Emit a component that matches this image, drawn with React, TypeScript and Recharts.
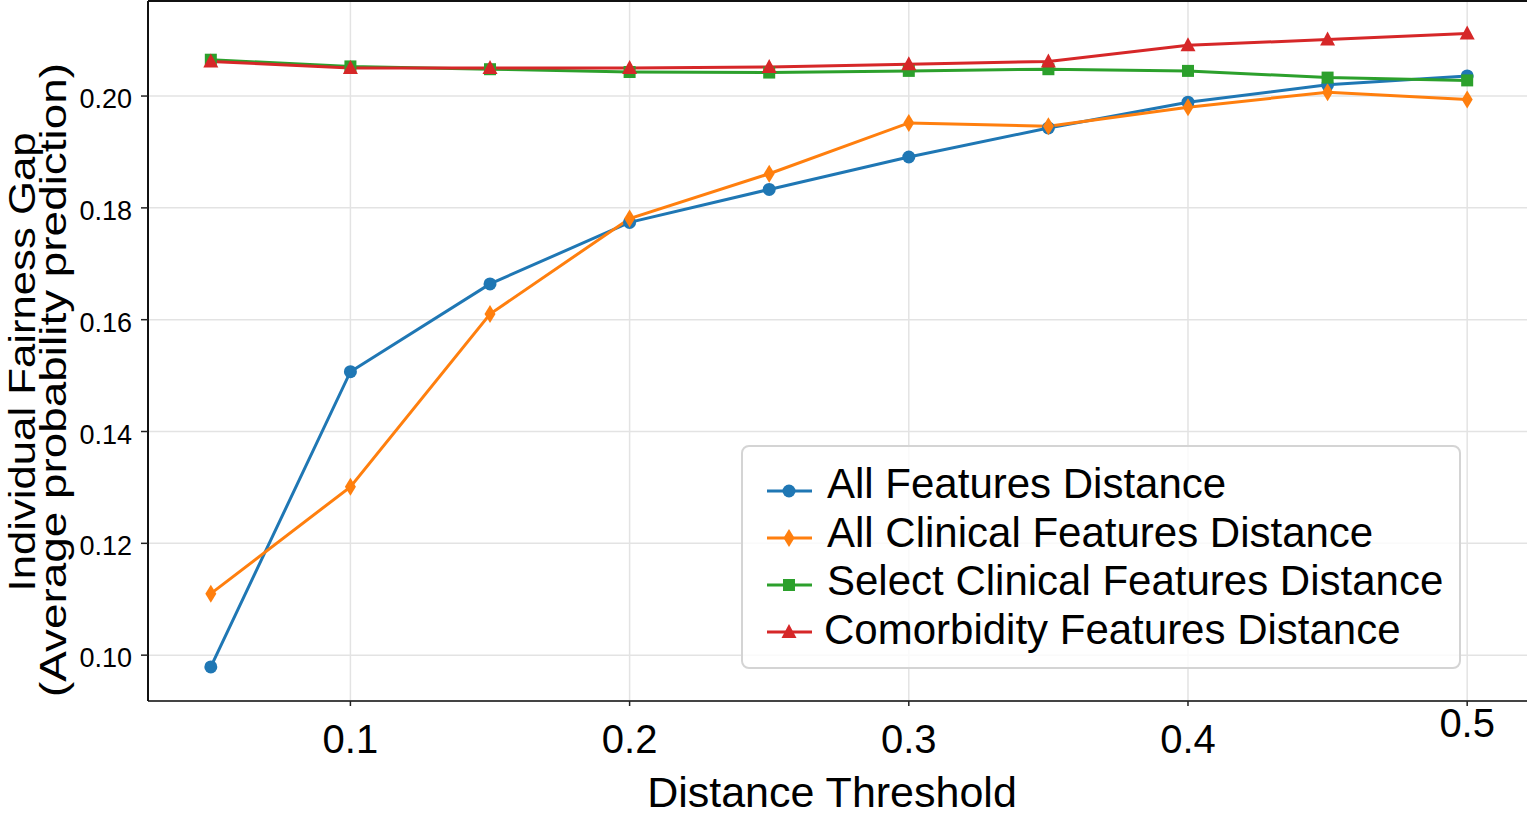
import { LineChart, Line, XAxis, YAxis, CartesianGrid, Legend } from 'recharts'

const thresholds = [0.05, 0.1, 0.15, 0.2, 0.25, 0.3, 0.35, 0.4, 0.45, 0.5]
const allFeatures = [0.0979, 0.1507, 0.1664, 0.1774, 0.1833, 0.1891, 0.1943, 0.1989, 0.202, 0.2036]
const allClinical = [0.111, 0.1301, 0.161, 0.1781, 0.1861, 0.1952, 0.1946, 0.198, 0.2007, 0.1994]
const selectClinical = [0.2065, 0.2053, 0.2048, 0.2043, 0.2042, 0.2045, 0.2048, 0.2045, 0.2033, 0.2028]
const comorbidity = [0.2062, 0.205, 0.205, 0.205, 0.2052, 0.2057, 0.2062, 0.2091, 0.2101, 0.2112]

const xTicks = [0.1, 0.2, 0.3, 0.4, 0.5]
const yTicks = [0.1, 0.12, 0.14, 0.16, 0.18, 0.2]

const series = [
  { key: 'allFeatures', name: 'All Features Distance', color: '#1f77b4', shape: 'circle' },
  { key: 'allClinical', name: 'All Clinical Features Distance', color: '#ff7f0e', shape: 'diamond' },
  { key: 'selectClinical', name: 'Select Clinical Features Distance', color: '#2ca02c', shape: 'square' },
  { key: 'comorbidity', name: 'Comorbidity Features Distance', color: '#d62728', shape: 'triangle' },
]

const data = thresholds.map((t, i) => ({
  t,
  allFeatures: allFeatures[i],
  allClinical: allClinical[i],
  selectClinical: selectClinical[i],
  comorbidity: comorbidity[i],
}))

const FONT = '"Liberation Sans", Arial, Helvetica, sans-serif'

function Marker({ shape, cx, cy, color }: { shape: string; cx: number; cy: number; color: string }) {
  if (shape === 'circle') return <circle cx={cx} cy={cy} r={6.5} fill={color} />
  if (shape === 'diamond')
    return <polygon points={`${cx},${cy - 9} ${cx + 5.5},${cy} ${cx},${cy + 9} ${cx - 5.5},${cy}`} fill={color} />
  if (shape === 'square') return <rect x={cx - 6} y={cy - 6} width={12} height={12} fill={color} />
  return <polygon points={`${cx},${cy - 8} ${cx + 7.5},${cy + 6} ${cx - 7.5},${cy + 6}`} fill={color} />
}

function XTick(props: any) {
  const { x, y, payload } = props
  const last = payload.value === 0.5
  return (
    <text x={x} y={y + (last ? 31 : 47)} textAnchor="middle" fontSize={40} fontFamily={FONT} fill="#000">
      {payload.value.toFixed(1)}
    </text>
  )
}

function YTick(props: any) {
  const { x, y, payload } = props
  return (
    <text x={x} y={y + 12} textAnchor="end" fontSize={27} fontFamily={FONT} fill="#000">
      {payload.value.toFixed(2)}
    </text>
  )
}

function YLabel() {
  return (
    <g fontFamily={FONT} fill="#000">
      <text
        transform="translate(35,362) rotate(-90)"
        textAnchor="middle"
        fontSize={36}
        textLength={459}
        lengthAdjust="spacingAndGlyphs"
      >
        Individual Fairness Gap
      </text>
      <text
        transform="translate(66,380) rotate(-90)"
        textAnchor="middle"
        fontSize={37}
        textLength={634}
        lengthAdjust="spacingAndGlyphs"
      >
        (Average probability prediction)
      </text>
    </g>
  )
}

function XLabel() {
  return (
    <text x={832} y={807} textAnchor="middle" fontSize={43} fontFamily={FONT} fill="#000">
      Distance Threshold
    </text>
  )
}

function LegendBox() {
  return (
    <svg width={722} height={226} style={{ display: 'block' }}>
      <rect x={1} y={1} width={718} height={222} rx={7} fill="rgba(255,255,255,0.8)" stroke="#d4d4d4" strokeWidth={2} />
      {series.map((s, i) => {
        const my = 46 + 47 * i
        const by = 53 + 48.5 * i
        return (
          <g key={s.key}>
            <line x1={26} x2={71} y1={my} y2={my} stroke={s.color} strokeWidth={3} />
            <Marker shape={s.shape} cx={48} cy={my} color={s.color} />
            <text x={i === 3 ? 83 : 86} y={by} fontSize={42} fontFamily={FONT} fill="#000">
              {s.name}
            </text>
          </g>
        )
      })}
    </svg>
  )
}

export default function App() {
  return (
    <div
      style={{
        position: 'fixed',
        left: 0,
        top: 0,
        width: 1527,
        height: 822,
        overflow: 'hidden',
        background: '#fff',
      }}
    >
      <LineChart width={1540} height={822} data={data} margin={{ top: 0, right: 10, bottom: 0, left: 0 }}>
        <CartesianGrid stroke="#e3e3e3" strokeWidth={1.5} />
        <XAxis
          dataKey="t"
          type="number"
          domain={[0.0275, 0.5225]}
          ticks={xTicks}
          allowDataOverflow
          height={121}
          tickSize={5}
          tickMargin={0}
          tick={<XTick />}
          stroke="#444"
          axisLine={{ stroke: '#444', strokeWidth: 2 }}
          tickLine={{ stroke: '#222', strokeWidth: 1.5 }}
          label={<XLabel />}
        />
        <XAxis
          xAxisId="top"
          orientation="top"
          dataKey="t"
          type="number"
          domain={[0.0275, 0.5225]}
          height={1}
          tick={false}
          tickLine={false}
          axisLine={{ stroke: '#111', strokeWidth: 2 }}
        />
        <YAxis
          type="number"
          domain={[0.0918, 0.217]}
          ticks={yTicks}
          allowDataOverflow
          width={148}
          tickSize={7}
          tickMargin={9}
          tick={<YTick />}
          axisLine={{ stroke: '#111', strokeWidth: 2 }}
          tickLine={{ stroke: '#222', strokeWidth: 1.5 }}
          label={<YLabel />}
        />
        <Legend
          layout="horizontal"
          verticalAlign="middle"
          align="center"
          content={<LegendBox />}
          wrapperStyle={{ position: 'absolute', left: 741, top: 445, width: 722, height: 226 }}
        />
        {series.map((s) => (
          <Line
            key={s.key}
            dataKey={s.key}
            name={s.name}
            stroke={s.color}
            strokeWidth={3}
            isAnimationActive={false}
            dot={(p: any) => <Marker key={`${s.key}-${p.index}`} shape={s.shape} cx={p.cx} cy={p.cy} color={s.color} />}
            activeDot={false}
          />
        ))}
      </LineChart>
    </div>
  )
}
